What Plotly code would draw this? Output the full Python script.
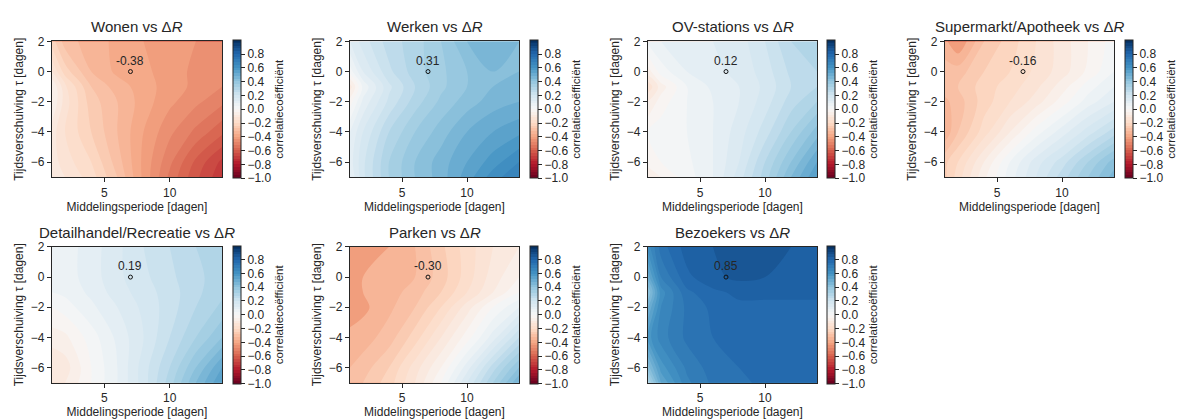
import plotly.graph_objects as go

# ---------------- data ----------------
x_period = [1, 2, 4, 6, 8, 10, 12, 14]          # Middelingsperiode [dagen]
y_shift = [2, 0, -1, -2, -4, -6, -7]             # Tijdsverschuiving tau [dagen]

titles = ["Wonen", "Werken", "OV-stations", "Supermarkt/Apotheek",
          "Detailhandel/Recreatie", "Parken", "Bezoekers"]
marker_values = [-0.38, 0.31, 0.12, -0.16, 0.19, -0.30, 0.85]

z_wonen = [
    [-0.22, -0.30, -0.34, -0.37, -0.40, -0.42, -0.44, -0.46],
    [-0.12, -0.22, -0.32, -0.37, -0.39, -0.42, -0.45, -0.47],
    [-0.04, -0.15, -0.28, -0.34, -0.38, -0.42, -0.45, -0.48],
    [-0.04, -0.14, -0.26, -0.32, -0.38, -0.43, -0.47, -0.51],
    [-0.10, -0.16, -0.24, -0.32, -0.40, -0.47, -0.53, -0.59],
    [-0.10, -0.14, -0.20, -0.30, -0.41, -0.51, -0.61, -0.69],
    [-0.08, -0.12, -0.18, -0.28, -0.41, -0.53, -0.63, -0.71],
]
z_werken = [
    [0.12, 0.18, 0.26, 0.30, 0.36, 0.44, 0.47, 0.44],
    [0.02, 0.12, 0.23, 0.30, 0.35, 0.40, 0.44, 0.44],
    [-0.10, 0.05, 0.19, 0.28, 0.35, 0.40, 0.44, 0.45],
    [-0.02, 0.09, 0.21, 0.30, 0.37, 0.42, 0.46, 0.48],
    [0.08, 0.16, 0.28, 0.36, 0.42, 0.48, 0.52, 0.55],
    [0.10, 0.19, 0.32, 0.40, 0.46, 0.52, 0.58, 0.64],
    [0.08, 0.19, 0.32, 0.40, 0.46, 0.54, 0.62, 0.68],
]
z_ov = [
    [0.05, 0.08, 0.12, 0.12, 0.14, 0.20, 0.28, 0.30],
    [-0.06, 0.02, 0.08, 0.11, 0.13, 0.18, 0.25, 0.28],
    [-0.15, -0.06, 0.04, 0.09, 0.12, 0.17, 0.24, 0.28],
    [-0.08, -0.02, 0.04, 0.08, 0.12, 0.18, 0.26, 0.32],
    [0.00, 0.02, 0.04, 0.08, 0.14, 0.22, 0.32, 0.42],
    [-0.02, 0.00, 0.03, 0.08, 0.16, 0.28, 0.40, 0.52],
    [-0.08, -0.04, 0.02, 0.08, 0.18, 0.30, 0.44, 0.56],
]
z_super = [
    [-0.35, -0.40, -0.28, -0.22, -0.16, -0.10, -0.04, 0.02],
    [-0.30, -0.30, -0.24, -0.20, -0.15, -0.10, -0.03, 0.04],
    [-0.30, -0.28, -0.22, -0.18, -0.13, -0.06, 0.02, 0.08],
    [-0.33, -0.30, -0.22, -0.16, -0.10, -0.02, 0.06, 0.12],
    [-0.35, -0.28, -0.18, -0.08, 0.02, 0.10, 0.18, 0.26],
    [-0.25, -0.20, -0.08, 0.04, 0.14, 0.22, 0.32, 0.42],
    [-0.25, -0.18, -0.05, 0.06, 0.16, 0.26, 0.36, 0.46],
]
z_detail = [
    [0.04, 0.06, 0.10, 0.15, 0.20, 0.24, 0.28, 0.30],
    [0.05, 0.06, 0.10, 0.15, 0.19, 0.23, 0.27, 0.30],
    [0.04, 0.05, 0.09, 0.14, 0.18, 0.22, 0.27, 0.31],
    [0.00, 0.02, 0.07, 0.12, 0.17, 0.22, 0.28, 0.33],
    [-0.06, -0.05, 0.02, 0.09, 0.16, 0.24, 0.32, 0.40],
    [-0.12, -0.10, 0.00, 0.08, 0.18, 0.28, 0.40, 0.52],
    [-0.10, -0.08, 0.00, 0.08, 0.18, 0.30, 0.44, 0.56],
]
z_parken = [
    [-0.40, -0.38, -0.36, -0.32, -0.25, -0.18, -0.12, -0.08],
    [-0.38, -0.36, -0.34, -0.32, -0.26, -0.18, -0.10, -0.04],
    [-0.37, -0.36, -0.34, -0.30, -0.24, -0.16, -0.08, 0.00],
    [-0.38, -0.37, -0.33, -0.28, -0.20, -0.10, 0.00, 0.08],
    [-0.35, -0.34, -0.30, -0.22, -0.12, -0.02, 0.10, 0.24],
    [-0.32, -0.30, -0.24, -0.14, -0.04, 0.10, 0.26, 0.40],
    [-0.30, -0.28, -0.22, -0.12, 0.00, 0.16, 0.32, 0.48],
]
z_bezoekers = [
    [0.62, 0.74, 0.82, 0.84, 0.85, 0.85, 0.84, 0.83],
    [0.50, 0.68, 0.79, 0.83, 0.85, 0.84, 0.83, 0.82],
    [0.40, 0.62, 0.75, 0.79, 0.81, 0.81, 0.81, 0.81],
    [0.48, 0.64, 0.73, 0.77, 0.79, 0.79, 0.79, 0.79],
    [0.58, 0.66, 0.73, 0.76, 0.77, 0.79, 0.79, 0.79],
    [0.42, 0.58, 0.69, 0.74, 0.76, 0.78, 0.78, 0.78],
    [0.30, 0.52, 0.67, 0.73, 0.75, 0.77, 0.77, 0.77],
]
z_all = [z_wonen, z_werken, z_ov, z_super, z_detail, z_parken, z_bezoekers]

cbar_ticks = [-1.0, -0.8, -0.6, -0.4, -0.2, 0.0, 0.2, 0.4, 0.6, 0.8]
cbar_ticktext = [("%.1f" % v).replace("-", "\u2212") for v in cbar_ticks]
y_ticks = [-6, -4, -2, 0, 2]
y_ticktext = [str(v).replace("-", "\u2212") for v in y_ticks]
x_ticks = [5, 10]

# ---------------- style / layout ----------------
W, H = 1182, 420
FONT = "Liberation Sans, Arial, sans-serif"
TXT = "#262626"
rdbu = ["#67001f", "#b2182b", "#d6604d", "#f4a582", "#fddbc7", "#f7f7f7",
        "#d1e5f0", "#92c5de", "#4393c3", "#2166ac", "#053061"]
colorscale = [[i / 10, c] for i, c in enumerate(rdbu)]

col_px = [(52, 222), (350, 519), (648, 817), (945, 1114)]
cb_px = [233, 530, 827, 1125]
row_px = [(35, 173), (244, 382)]

fig = go.Figure()
annotations = []
layout_axes = {}

for i, (name, z, val) in enumerate(zip(titles, z_all, marker_values)):
    r, c = divmod(i, 4)
    x0, x1 = col_px[c]
    yt, yb = row_px[r]
    n = i + 1
    xa = "x" if n == 1 else f"x{n}"
    ya = "y" if n == 1 else f"y{n}"
    xkey = "xaxis" if n == 1 else f"xaxis{n}"
    ykey = "yaxis" if n == 1 else f"yaxis{n}"

    fig.add_trace(go.Contour(
        x=x_period, y=y_shift, z=z, xaxis=xa, yaxis=ya,
        colorscale=colorscale, zmin=-1, zmax=1, zauto=False,
        contours=dict(coloring="fill", start=-1, end=1, size=0.04, showlines=False),
        line=dict(width=0),
        colorbar=dict(
            x=cb_px[c] / W, xanchor="left", xpad=0, ypad=0,
            y=1 - ((yt + yb) / 2) / H, yanchor="middle",
            len=(yb - yt), lenmode="pixels", thickness=8, thicknessmode="pixels",
            tickvals=cbar_ticks, ticktext=cbar_ticktext, ticks="outside",
            ticklen=4, tickcolor=TXT, tickfont=dict(size=12, color=TXT, family=FONT),
            outlinewidth=1, outlinecolor=TXT,
            title=dict(text="correlatieco\u00ebffici\u00ebnt", side="right",
                       font=dict(size=11.5, color=TXT, family=FONT)),
        ),
        hoverinfo="skip",
    ))
    fig.add_trace(go.Scatter(
        x=[7], y=[0], xaxis=xa, yaxis=ya, mode="markers",
        marker=dict(symbol="circle-open", size=4, color="#111", line=dict(width=1)),
        showlegend=False, hoverinfo="skip",
    ))
    annotations.append(dict(
        x=7, y=0, xref=xa, yref=ya, text=("%.2f" % val), showarrow=False,
        yshift=11, font=dict(size=12, color=TXT, family=FONT),
    ))
    annotations.append(dict(
        x=(x0 + x1) / 2 / W, y=1 - (yt - 4) / H, xref="paper", yref="paper",
        xanchor="center", yanchor="bottom", showarrow=False,
        text=f"{name} vs \u0394<i>R</i>", font=dict(size=15, color=TXT, family=FONT),
    ))
    layout_axes[xkey] = dict(
        domain=[x0 / W, x1 / W], anchor=ya, range=[1, 14],
        tickvals=x_ticks, ticks="outside", ticklen=4, tickcolor=TXT,
        showgrid=False, zeroline=False, showline=True, mirror=True,
        linecolor=TXT, linewidth=1.3,
        tickfont=dict(size=12, color=TXT, family=FONT),
        title=dict(text="Middelingsperiode [dagen]", standoff=2,
                   font=dict(size=12, color=TXT, family=FONT)),
    )
    layout_axes[ykey] = dict(
        domain=[1 - yb / H, 1 - yt / H], anchor=xa, range=[-7, 2],
        tickvals=y_ticks, ticktext=y_ticktext, ticks="outside", ticklen=4,
        tickcolor=TXT, showgrid=False, zeroline=False, showline=True,
        mirror=True, linecolor=TXT, linewidth=1.3,
        tickfont=dict(size=12, color=TXT, family=FONT),
        title=dict(text="Tijdsverschuiving \u03c4 [dagen]", standoff=4,
                   font=dict(size=12, color=TXT, family=FONT)),
    )

fig.update_layout(
    width=W, height=H, autosize=False,
    margin=dict(l=0, r=0, t=0, b=0),
    paper_bgcolor="white", plot_bgcolor="white",
    showlegend=False, annotations=annotations,
    font=dict(family=FONT, color=TXT),
    **layout_axes,
)

fig.write_html("out.html")
